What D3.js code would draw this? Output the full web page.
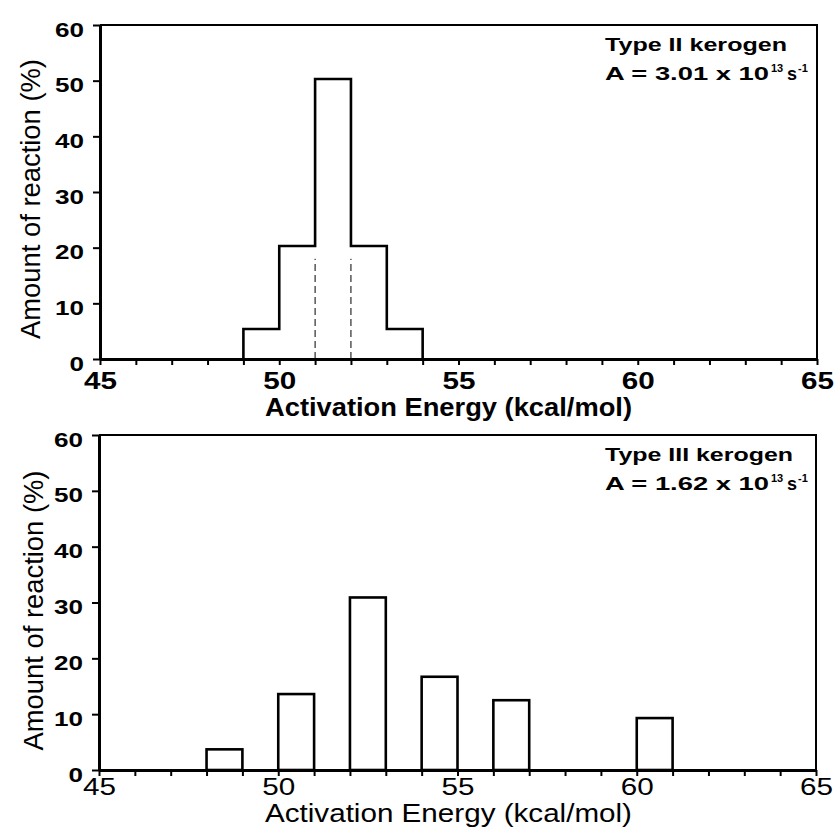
<!DOCTYPE html>
<html lang="en">
<head>
    <meta charset="UTF-8">
    <title>Activation energy distributions</title>
    <script src="https://d3js.org/d3.v7.min.js"></script>
    <style>
        body { margin: 0; background: #fff; }
        svg { display: block; font-family: Arial, "Liberation Sans", sans-serif; }
    </style>
</head>
<body>
<svg width="834" height="830"></svg>
<script>
    // x axis (kcal/mol) and y axis (%)
    var energyDomain = [45, 65];
    var amountDomain = [0, 60];
    var energyTicks = d3.range(45, 66, 1);
    var energyLabels = [45, 50, 55, 60, 65];
    var amountTicks = [0, 10, 20, 30, 40, 50, 60];

    // type II kerogen: bins start at these energies, 1 kcal/mol wide
    var energyTypeII = [49, 50, 51, 52, 53];
    var amountTypeII = [5.4, 20.3, 50.3, 20.3, 5.4];
    var dividersTypeII = [51, 52];
    var dividerTop = 18;

    // type III kerogen
    var energyTypeIII = [48, 50, 52, 54, 56, 60];
    var amountTypeIII = [3.7, 13.6, 30.9, 16.7, 12.5, 9.3];
    var binWidth = 1;

    var svg = d3.select("svg");

    function drawPanel(p) {
        var x = d3.scaleLinear().domain(energyDomain).range([p.left, p.right]);
        var y = d3.scaleLinear().domain(amountDomain).range([p.bottom, p.top]);
        var g = svg.append("g");

        // frame top + right
        g.append("path")
            .attr("d", "M" + p.left + "," + p.top + "H" + p.right + "V" + p.bottom)
            .attr("fill", "none").attr("stroke", "#000").attr("stroke-width", 2);

        // bars
        if (p.step) {
            var pts = [[p.energy[0], 0]];
            p.energy.forEach(function(e, i){ pts.push([e, p.amount[i]]); });
            pts.push([p.energy[p.energy.length - 1] + binWidth, 0]);
            var line = d3.line()
                .x(function(d){ return x(d[0]); })
                .y(function(d){ return y(d[1]); })
                .curve(d3.curveStepAfter);
            g.append("path").datum(pts)
                .attr("d", line)
                .attr("fill", "none").attr("stroke", "#000").attr("stroke-width", 2.6);
            g.selectAll(".div").data(p.dividers).enter().append("line")
                .attr("x1", function(d){ return x(d); })
                .attr("x2", function(d){ return x(d); })
                .attr("y1", y(0)).attr("y2", y(dividerTop))
                .attr("stroke", "#000").attr("stroke-width", 1)
                .attr("stroke-dasharray", "7,4");
        } else {
            g.selectAll(".bar").data(p.energy).enter().append("rect")
                .attr("x", function(d){ return x(d); })
                .attr("width", function(d){ return x(d + binWidth) - x(d); })
                .attr("y", function(d, i){ return y(p.amount[i]); })
                .attr("height", function(d, i){ return y(0) - y(p.amount[i]); })
                .attr("fill", "none").attr("stroke", "#000").attr("stroke-width", 2.6);
        }

        // x axis
        var xAxis = d3.axisBottom(x)
            .tickValues(energyTicks)
            .tickSize(6).tickSizeOuter(0)
            .tickPadding(p.xPad)
            .tickFormat(function(d){ return energyLabels.indexOf(d) >= 0 ? d : ""; });
        var gx = g.append("g").attr("transform", "translate(0," + p.bottom + ")").call(xAxis);
        gx.select(".domain").attr("stroke-width", 3);
        gx.selectAll(".tick line").attr("stroke-width", 2);
        gx.selectAll(".tick text")
            .attr("font-size", 23).attr("font-weight", p.xWeight).attr("fill", "#000")
            .attr("font-family", "Arial, 'Liberation Sans', sans-serif")
            .attr("textLength", function(d){ return String(d).length * 16.5; })
            .attr("lengthAdjust", "spacingAndGlyphs");

        // y axis
        var yAxis = d3.axisLeft(y)
            .tickValues(amountTicks)
            .tickSize(7).tickSizeOuter(0)
            .tickPadding(9);
        var gy = g.append("g").attr("transform", "translate(" + p.left + ",0)").call(yAxis);
        gy.select(".domain").attr("stroke-width", 3);
        gy.selectAll(".tick line").attr("stroke-width", 2);
        gy.selectAll(".tick text")
            .attr("font-size", 20).attr("font-weight", "bold").attr("fill", "#000")
            .attr("font-family", "Arial, 'Liberation Sans', sans-serif")
            .attr("dy", "0.55em")
            .attr("textLength", function(d){ return String(d).length * 14.5; })
            .attr("lengthAdjust", "spacingAndGlyphs");

        // axis titles
        g.append("text")
            .attr("x", 265).attr("y", p.bottom + p.titleOffset)
            .attr("font-size", 26).attr("font-weight", p.xWeight)
            .attr("textLength", 367).attr("lengthAdjust", "spacingAndGlyphs")
            .text("Activation Energy (kcal/mol)");
        g.append("text")
            .attr("transform", "translate(" + p.yTitleX + "," + ((p.top + p.bottom) / 2 + p.yTitleShift) + ") rotate(-90)")
            .attr("text-anchor", "middle")
            .attr("font-size", 27)
            .attr("textLength", 280).attr("lengthAdjust", "spacingAndGlyphs")
            .text("Amount of reaction (%)");

        // annotation
        g.append("text")
            .attr("x", 605).attr("y", p.top + 26)
            .attr("font-size", 18).attr("font-weight", "bold")
            .attr("textLength", p.labelWidth).attr("lengthAdjust", "spacingAndGlyphs")
            .text(p.label);
        var ay = p.top + 55;
        g.append("text")
            .attr("x", 605).attr("y", ay)
            .attr("font-size", 18).attr("font-weight", "bold")
            .attr("textLength", 164).attr("lengthAdjust", "spacingAndGlyphs")
            .text("A = " + p.aValue + " x 10");
        g.append("text")
            .attr("x", 771).attr("y", ay - 8)
            .attr("font-size", 11).attr("font-weight", "bold")
            .text("13");
        g.append("text")
            .attr("x", 787).attr("y", ay)
            .attr("font-size", 18).attr("font-weight", "bold")
            .text("s");
        g.append("text")
            .attr("x", 798).attr("y", ay - 8)
            .attr("font-size", 11).attr("font-weight", "bold")
            .text("-1");
    }

    drawPanel({
        left: 100, right: 817, top: 25, bottom: 359,
        energy: energyTypeII, amount: amountTypeII, dividers: dividersTypeII, step: true,
        xPad: 8, xWeight: "bold", titleOffset: 57, yTitleX: 40, yTitleShift: 7,
        label: "Type II kerogen", labelWidth: 182, aValue: "3.01"
    });
    drawPanel({
        left: 99, right: 816, top: 435, bottom: 770,
        energy: energyTypeIII, amount: amountTypeIII, step: false,
        xPad: 3, xWeight: "normal", titleOffset: 52, yTitleX: 43, yTitleShift: 8,
        label: "Type III kerogen", labelWidth: 188, aValue: "1.62"
    });
</script>
</body>
</html>
